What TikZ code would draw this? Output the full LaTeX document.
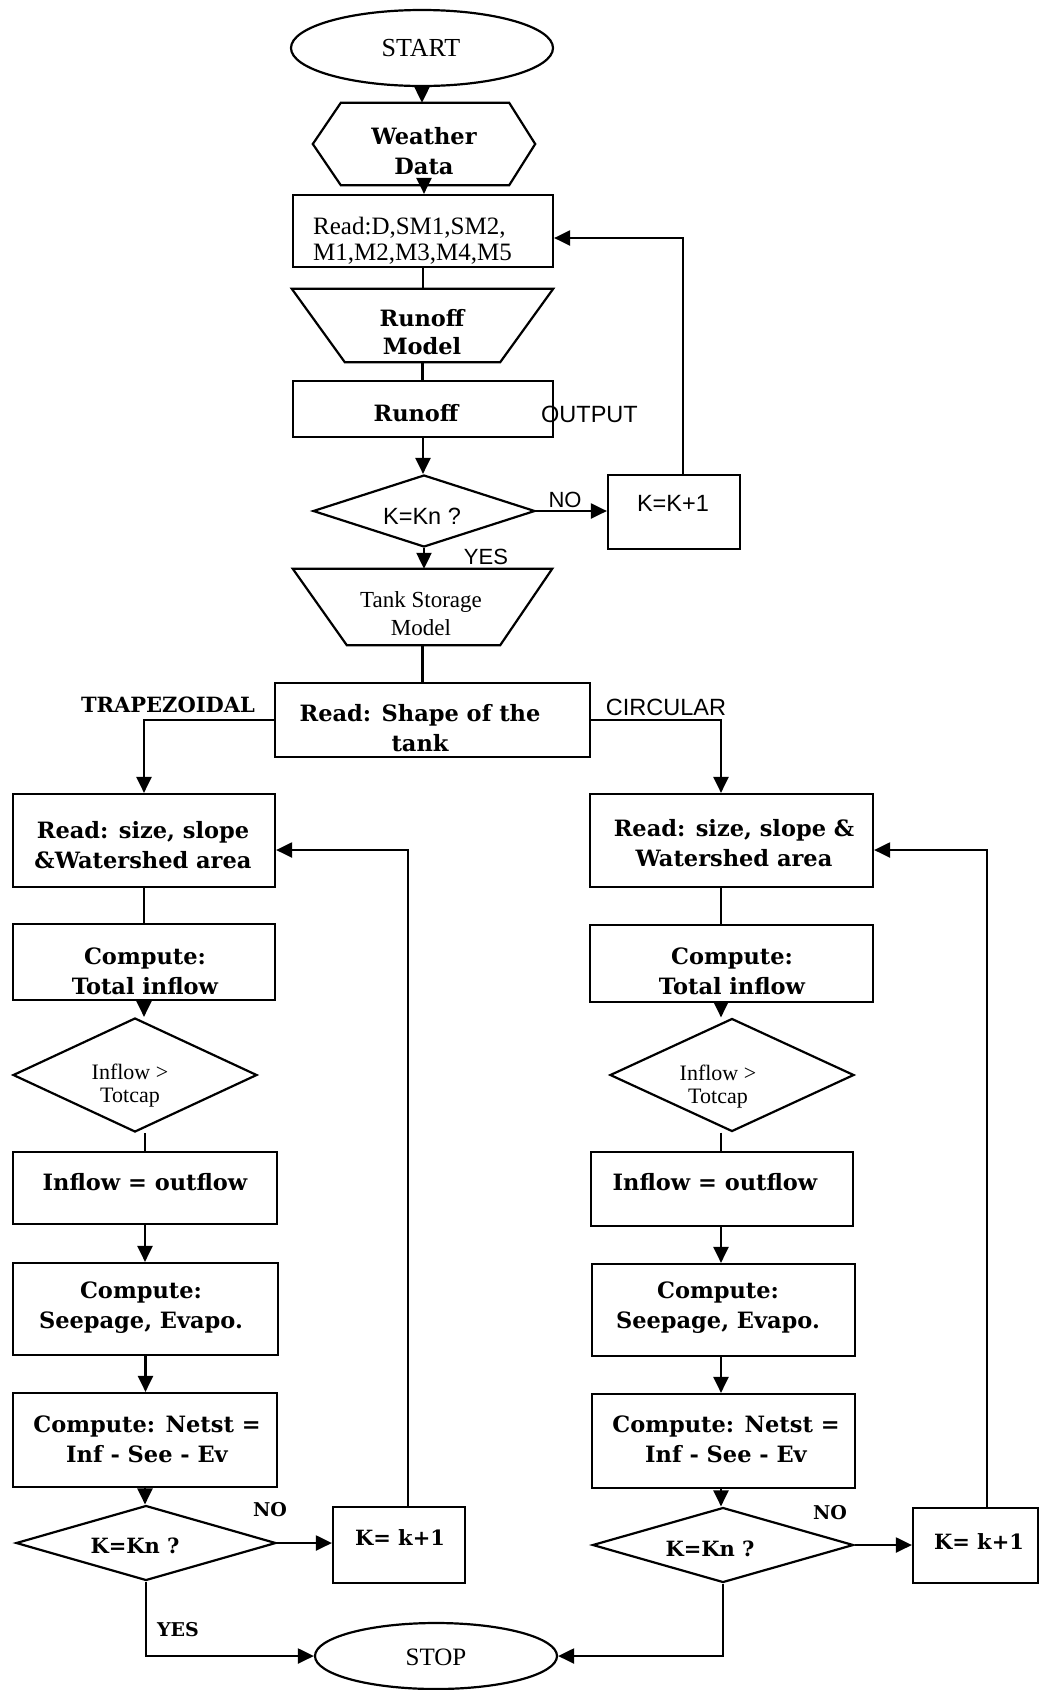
\documentclass[tikz,border=0pt]{standalone}
\usepackage{fontspec}
\setmainfont{Liberation Serif}
\newfontfamily\bkfam{DejaVu Serif}
\newfontfamily\safam{Liberation Sans}
\usetikzlibrary{arrows.meta,shapes.geometric,fit}
\newcommand\bkb[2]{\bkfam\bfseries\fontsize{#1}{#2}\selectfont}
\newcommand\srf[2]{\rmfamily\fontsize{#1}{#2}\selectfont}
\newcommand\snf[2]{\safam\fontsize{#1}{#2}\selectfont}
\tikzset{
  ln/.style={line width=2.2pt, line join=miter},
  arr/.style={ln, -{Triangle[length=16pt,width=15pt]}},
  frame/.style={draw, line width=2.2pt, inner sep=0pt, rectangle},
  ghost/.style={draw=none, inner sep=0pt, rectangle},
  dia/.style={draw, line width=2.2pt, inner sep=0pt, diamond, aspect=3},
  oval/.style={draw, line width=2.2pt, inner sep=0pt, ellipse},
  txt/.style={inner sep=0pt, align=center},
  bk/.style={txt, font={\bkb{22.5}{30}}},
  sf/.style={txt, font={\snf{23.5}{26}}},
  rm/.style={txt, font={\srf{23}{28}}}
}
\begin{document}
\begin{tikzpicture}[x=1pt,y=-1pt]
\useasboundingbox (0,0) rectangle (1040,1690);

% ---------- top part ----------
\node[oval, minimum width=262pt, minimum height=76pt] (start) at (422,48) {};
\node[txt, font={\srf{26}{30}}] (startT) at (421,48) {START};

\node[ghost, fit={(313,103) (535,185)}] (wd) {};
\draw[ln] (wd.west) -- ([xshift=28pt]wd.north west) -- ([xshift=-26pt]wd.north east)
  -- (wd.east) -- ([xshift=-26pt]wd.south east) -- ([xshift=28pt]wd.south west) -- cycle;
\node[bk, font={\bkb{22.5}{30}}] (wdT) at (424,151) {Weather\\Data};

\node[frame, fit={(293,195) (553,267)}] (rd) {};
\node[txt, anchor=west, align=left, font={\srf{25}{26}}] (rdT) at (313,241) {Read:D,SM1,SM2,\\M1,M2,M3,M4,M5};

\node[ghost, fit={(292,289) (553,362)}] (rm) {};
\draw[ln] (rm.north west) -- (rm.north east) -- ([xshift=-53pt]rm.south east)
  -- ([xshift=53pt]rm.south west) -- cycle;
\node[bk, font={\bkb{22.5}{28}}] (rmT) at (422,332) {Runoff\\Model};

\node[frame, fit={(293,381) (553,437)}] (rb) {};
\node[bk] (rbT) at (416,413) {Runoff};
\node[sf, anchor=west] (outT) at (541,414) {OUTPUT};

\node[dia, minimum width=222pt, minimum height=72pt] (d1) at (424,511) {};
\node[sf] (d1T) at (422,516) {K=Kn ?};
\node[sf, font={\snf{22}{26}}] (no1) at (565,500) {NO};
\node[sf, font={\snf{22}{26}}] (yes1) at (486,557) {YES};

\node[frame, fit={(608,475) (740,549)}] (k1) {};
\node[sf] (k1T) at (673,503) {K=K+1};

\node[ghost, fit={(293,569) (552,645)}] (tk) {};
\draw[ln] (tk.north west) -- (tk.north east) -- ([xshift=-52pt]tk.south east)
  -- ([xshift=54pt]tk.south west) -- cycle;
\node[rm] (tkT) at (421,614) {Tank Storage\\Model};

\node[frame, fit={(275,683) (590,757)}] (rsh) {};
\node[bk] (rshT) at (420,728) {Read: Shape of the\\tank};
\node[bk, font={\bkb{21}{24}}] (trap) at (168,705) {TRAPEZOIDAL};
\node[sf] (circ) at (666,707) {CIRCULAR};

% ---------- left column ----------
\node[frame, fit={(13,794) (275,887)}] (lr) {};
\node[bk] (lrT) at (143,845) {Read: size, slope\\\&Watershed area};
\node[frame, fit={(13,924) (275,1000)}] (lc) {};
\node[bk] (lcT) at (145,971) {Compute:\\Total inflow};
\node[dia, minimum width=244pt, minimum height=114pt] (ld) at (135,1075) {};
\node[rm, font={\srf{22}{23}}] (ldT) at (130,1086) {Inflow >\\Totcap};
\node[frame, fit={(13,1152) (277,1224)}] (li) {};
\node[bk] (liT) at (145,1182) {Inflow = outflow};
\node[frame, fit={(13,1263) (278,1355)}] (ls) {};
\node[bk] (lsT) at (141,1308) {Compute:\\Seepage, Evapo.};
\node[frame, fit={(13,1393) (277,1487)}] (lnet) {};
\node[bk] (lnetT) at (147,1439) {Compute: Netst =\\Inf - See - Ev};
\node[dia, minimum width=260pt, minimum height=75pt] (lk) at (146,1543) {};
\node[bk, font={\bkb{21}{24}}] (lkT) at (135,1546) {K=Kn ?};
\node[frame, fit={(333,1507) (465,1583)}] (lkb) {};
\node[bk, font={\bkb{21}{24}}] (lkbT) at (400,1538) {K= k+1};
\node[bk, font={\bkb{19}{22}}] (no2) at (270,1510) {NO};
\node[bk, font={\bkb{19}{22}}] (yes2) at (178,1630) {YES};

\node[oval, minimum width=242pt, minimum height=66pt] (stop) at (436,1656) {};
\node[rm, font={\srf{25}{28}}] (stopT) at (436,1657) {STOP};

% ---------- right column ----------
\node[frame, fit={(590,794) (873,887)}] (rr) {};
\node[bk] (rrT) at (734,843) {Read: size, slope \&\\Watershed area};
\node[frame, fit={(590,925) (873,1002)}] (rc) {};
\node[bk] (rcT) at (732,971) {Compute:\\Total inflow};
\node[dia, minimum width=244pt, minimum height=113pt] (rd2) at (732,1075) {};
\node[rm, font={\srf{22}{23}}] (rd2T) at (718,1087) {Inflow >\\Totcap};
\node[frame, fit={(591,1152) (853,1226)}] (ri) {};
\node[bk] (riT) at (715,1182) {Inflow = outflow};
\node[frame, fit={(592,1264) (855,1356)}] (rs) {};
\node[bk] (rsT) at (718,1308) {Compute:\\Seepage, Evapo.};
\node[frame, fit={(592,1394) (855,1488)}] (rnet) {};
\node[bk] (rnetT) at (726,1439) {Compute: Netst =\\Inf - See - Ev};
\node[dia, minimum width=261pt, minimum height=75pt] (rk) at (723,1545) {};
\node[bk, font={\bkb{21}{24}}] (rkT) at (710,1549) {K=Kn ?};
\node[frame, fit={(913,1508) (1038,1583)}] (rkb) {};
\node[bk, font={\bkb{21}{24}}] (rkbT) at (979,1542) {K= k+1};
\node[bk, font={\bkb{19}{22}}] (no3) at (830,1513) {NO};

% ---------- bend coordinates ----------
\coordinate (tp) at (683,238);
\coordinate (lp) at (408,850);
\coordinate (rp) at (987,850);
\coordinate (rx) at (721,720);

% ---------- connectors ----------
\draw[arr] (start.south) -- (start.south |- wd.north);
\draw[arr] (wd.south) -- (wd.south |- rd.north);
\draw[ln] (rd.south) -- (rd.south |- rm.north);
\draw[ln] (rm.south) -- (rm.south |- rb.north);
\draw[arr] (rb.south) -- (rb.south |- d1.north);
\draw[arr] (d1.east) -- (d1.east -| k1.west);
\draw[arr] (k1.north -| tp) -- (tp) -- (tp -| rd.east);
\draw[arr] (d1.south) -- (d1.south |- tk.north);
\draw[ln] (tk.south) -- (tk.south |- rsh.north);
\draw[arr] (rsh.west) -| (lr.north);
\draw[arr] (rsh.east) -- (rx) -- (rx |- rr.north);

\draw[ln] (lr.south) -- (lc.north);
\draw[arr] (lc.south) -- (lc.south |- ld.north);
\draw[ln] (li.north |- ld.south) -- (li.north);
\draw[arr] (li.south) -- (li.south |- ls.north);
\draw[arr] (ls.south) -- (ls.south |- lnet.north);
\draw[arr] (lnet.south) -- (lnet.south |- lk.north);
\draw[arr] (lk.east) -- (lk.east -| lkb.west);
\draw[arr] (lkb.north -| lp) -- (lp) -- (lp -| lr.east);
\draw[arr] (lk.south) |- (stop.west);

\draw[ln] (rx |- rr.south) -- (rx |- rc.north);
\draw[arr] (rx |- rc.south) -- (rx |- rd2.north);
\draw[ln] (rx |- rd2.south) -- (rx |- ri.north);
\draw[arr] (rx |- ri.south) -- (rx |- rs.north);
\draw[arr] (rx |- rs.south) -- (rx |- rnet.north);
\draw[arr] (rx |- rnet.south) -- (rx |- rk.north);
\draw[arr] (rk.east) -- (rk.east -| rkb.west);
\draw[arr] (rkb.north -| rp) -- (rp) -- (rp -| rr.east);
\draw[arr] (rk.south) |- (stop.east);
\end{tikzpicture}
\end{document}
